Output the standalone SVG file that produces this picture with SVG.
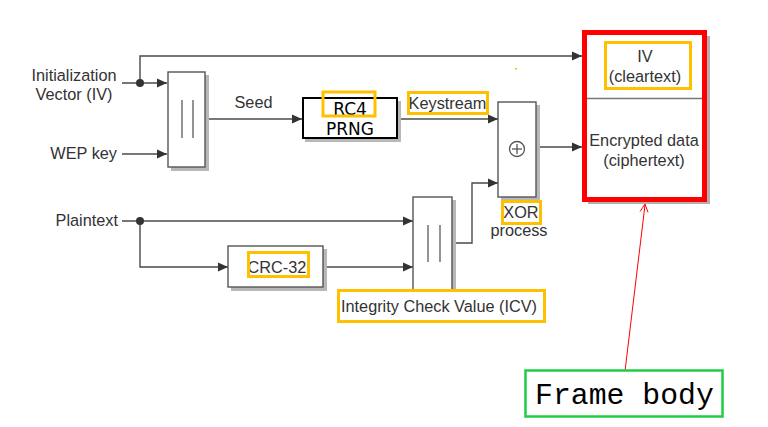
<svg xmlns="http://www.w3.org/2000/svg" width="768" height="427" viewBox="0 0 768 427">
  <style>
    .t { font-family: "Liberation Sans", Arial, sans-serif; font-size: 16.3px; fill: #333333; }
    .mid { text-anchor: middle; }
    .end { text-anchor: end; }
    .box { fill: #ffffff; stroke: #555555; stroke-width: 1.4; }
    .shadow { fill: #b8b8b8; }
    .wire { fill: none; stroke: #4a4a4a; stroke-width: 1.4; }
    .hl { fill: none; stroke: #FFC000; stroke-width: 3; }
    .bar { stroke: #666666; stroke-width: 1.4; }
  </style>
  <defs>
    <marker id="arr" markerUnits="userSpaceOnUse" markerWidth="10" markerHeight="10" refX="10" refY="5" orient="auto">
      <path d="M0,0.5 L10,5 L0,9.5 z" fill="#333333"/>
    </marker>
  </defs>
  <rect width="768" height="427" fill="#ffffff"/>

  <!-- input labels -->
  <g id="iv-label">
    <text class="t mid" x="74" y="81">Initialization</text>
    <text class="t mid" x="74" y="100">Vector (IV)</text>
  </g>
  <g id="wep-label">
    <text class="t end" x="117" y="159">WEP key</text>
  </g>
  <g id="plaintext-label">
    <text class="t end" x="118" y="226">Plaintext</text>
  </g>

  <!-- connectors -->
  <g id="connectors">
    <path class="wire" d="M122,83 H167" marker-end="url(#arr)"/>
    <path class="wire" d="M140,83 V56 H582" marker-end="url(#arr)"/>
    <path class="wire" d="M122,154 H167" marker-end="url(#arr)"/>
    <path class="wire" d="M205,119 H302" marker-end="url(#arr)"/>
    <path class="wire" d="M399,119 H498" marker-end="url(#arr)"/>
    <path class="wire" d="M536,147 H582" marker-end="url(#arr)"/>
    <path class="wire" d="M122,221 H413" marker-end="url(#arr)"/>
    <path class="wire" d="M140,221 V267 H228" marker-end="url(#arr)"/>
    <path class="wire" d="M326,267 H413" marker-end="url(#arr)"/>
    <path class="wire" d="M453,243 H472 V183 H498" marker-end="url(#arr)"/>
    <circle cx="140" cy="83" r="4" fill="#333333"/>
    <circle cx="140" cy="221" r="4" fill="#333333"/>
    <line x1="625" y1="371" x2="645" y2="205" stroke="#ff0000" stroke-width="1"/>
    <polyline points="640.1,211.5 645,204 648,212.4" fill="none" stroke="#ff0000" stroke-width="1"/>
  </g>

  <!-- concatenation 1 -->
  <g id="concat1">
    <rect class="shadow" x="171" y="75" width="38" height="96"/>
    <rect class="box" x="168" y="72" width="37" height="95"/>
    <line class="bar" x1="182" y1="100" x2="182" y2="138"/>
    <line class="bar" x1="193" y1="100" x2="193" y2="138"/>
  </g>
  <g id="seed-label">
    <text class="t mid" x="253.5" y="108">Seed</text>
  </g>

  <!-- RC4 PRNG -->
  <g id="rc4">
    <rect class="shadow" x="305" y="101" width="96" height="41"/>
    <rect x="303" y="98" width="94" height="40" fill="#ffffff" stroke="#000000" stroke-width="2"/>
    <text x="350" y="115" text-anchor="middle" font-family="DejaVu Sans, sans-serif" font-size="17" fill="#000000">RC4</text>
    <text x="350" y="135" text-anchor="middle" font-family="DejaVu Sans, sans-serif" font-size="17" fill="#000000">PRNG</text>
    <rect class="hl" x="323" y="92" width="52" height="24"/>
  </g>

  <g id="keystream-label">
    <text class="t mid" x="447.5" y="109">Keystream</text>
    <rect class="hl" x="408.5" y="92.5" width="79" height="21"/>
  </g>

  <rect x="515" y="68" width="2" height="1.5" fill="#f2c400"/>

  <!-- XOR -->
  <g id="xor">
    <rect class="shadow" x="501" y="105" width="39" height="96"/>
    <rect class="box" x="498" y="102" width="38" height="95"/>
    <circle cx="517" cy="149" r="7.5" fill="none" stroke="#555555" stroke-width="1.3"/>
    <line x1="512" y1="149" x2="522" y2="149" stroke="#555555" stroke-width="1.3"/>
    <line x1="517" y1="144" x2="517" y2="154" stroke="#555555" stroke-width="1.3"/>
    <text class="t mid" x="521" y="218">XOR</text>
    <rect class="hl" x="502.5" y="201.5" width="38" height="22"/>
    <text class="t mid" x="519" y="236">process</text>
  </g>

  <!-- CRC-32 -->
  <g id="crc32">
    <rect class="shadow" x="231" y="249" width="96" height="42"/>
    <rect class="box" x="228" y="246" width="95" height="41"/>
    <text class="t mid" x="277" y="273">CRC-32</text>
    <rect class="hl" x="248.5" y="252.5" width="60" height="24"/>
  </g>

  <!-- concatenation 2 -->
  <g id="concat2">
    <rect class="shadow" x="416" y="200" width="40" height="94"/>
    <rect class="box" x="413" y="197" width="39" height="93"/>
    <line class="bar" x1="428" y1="225" x2="428" y2="262"/>
    <line class="bar" x1="440" y1="225" x2="440" y2="262"/>
  </g>
  <g id="icv-label">
    <rect x="338.5" y="290.5" width="206" height="31" fill="#ffffff" stroke="#FFC000" stroke-width="3"/>
    <text class="t mid" x="439" y="312">Integrity Check Value (ICV)</text>
  </g>

  <!-- frame -->
  <g id="frame">
    <rect x="588" y="36" width="122" height="168" fill="#b0b0b0"/>
    <rect x="584.5" y="32.5" width="120" height="167" fill="#ffffff"/>
    <line x1="587" y1="98.5" x2="702" y2="98.5" stroke="#777777" stroke-width="1.5"/>
    <text class="t mid" x="645" y="62">IV</text>
    <text class="t mid" x="645" y="82">(cleartext)</text>
    <rect class="hl" x="605.5" y="42.5" width="85" height="46"/>
    <text class="t mid" x="644" y="146">Encrypted data</text>
    <text class="t mid" x="644" y="166">(ciphertext)</text>
    <rect x="584.5" y="32.5" width="120" height="167" fill="none" stroke="#ff0000" stroke-width="5"/>
  </g>

  <!-- annotation -->
  <g id="frame-body">
    <rect x="525.5" y="370.5" width="197" height="46" fill="#ffffff" stroke="#22cc44" stroke-width="2.5"/>
    <text x="535" y="404" font-family="Liberation Mono, monospace" font-size="29.8" fill="#000000">Frame body</text>
  </g>
</svg>
